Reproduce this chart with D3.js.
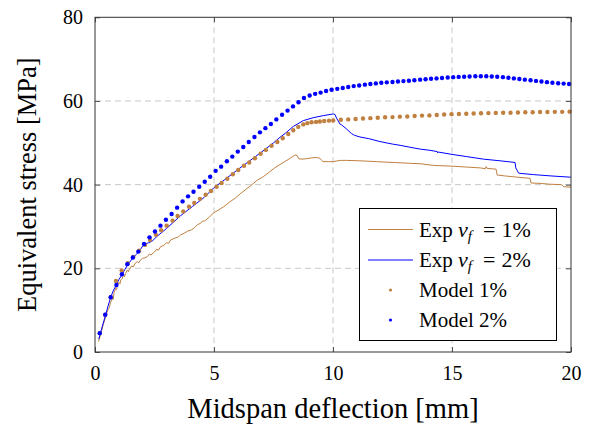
<!DOCTYPE html>
<html><head><meta charset="utf-8">
<script src="https://cdn.jsdelivr.net/npm/d3@7"></script>
<style>body{margin:0;background:#fff}svg{display:block}</style>
</head><body><svg id="c" width="592" height="425"></svg>
<script>
const xTicks=[0,5,10,15,20];
const yTicks=[0,20,40,60,80];
const exp1=[[0.15,2.5],[0.25,4.5],[0.35,6.6],[0.45,8.5],[0.55,10.2],[0.6,10.6],[0.65,11.8],[0.73,12.8],[0.76,12.5],[0.8,14.2],[0.87,15.2],[0.9,14.9],[0.95,16.0],[1.0,16.6],[1.05,16.3],[1.08,17.2],[1.15,17.6],[1.2,18.6],[1.24,18.0],[1.28,18.8],[1.36,19.6],[1.4,19.2],[1.45,19.9],[1.55,20.6],[1.6,20.3],[1.7,21.3],[1.78,21.6],[1.84,21.3],[1.9,21.9],[2.0,22.4],[2.1,22.5],[2.2,22.8],[2.28,23.4],[2.35,23.2],[2.5,23.9],[2.6,24.6],[2.66,24.3],[2.76,25.2],[2.9,25.5],[3.0,26.1],[3.1,26.0],[3.18,26.8],[3.35,27.2],[3.5,27.5],[3.6,28.0],[3.75,28.4],[3.9,28.9],[4.05,29.2],[4.16,29.6],[4.3,30.4],[4.44,30.8],[4.52,31.3],[4.6,31.3],[4.8,32.2],[4.97,33.2],[5.2,34.0],[5.4,34.7],[5.67,35.9],[5.9,36.8],[6.1,37.8],[6.37,39.0],[6.6,40.0],[6.8,41.0],[7.07,41.9],[7.3,42.9],[7.55,44.0],[7.77,44.8],[8.0,45.6],[8.2,46.3],[8.33,46.8],[8.44,47.1],[8.5,46.9],[8.56,46.2],[8.7,46.1],[8.9,46.2],[9.1,46.4],[9.31,46.5],[9.45,46.3],[9.52,45.8],[9.58,45.5],[9.8,45.5],[10.01,45.5],[10.3,45.8],[10.57,45.8],[11.13,45.7],[11.83,45.5],[12.53,45.3],[13.24,45.1],[13.66,45.0],[14.22,44.6],[15.06,44.4],[15.62,44.2],[16.2,44.0],[16.4,43.8],[16.43,44.3],[16.47,43.9],[16.85,43.7],[16.9,42.3],[17.2,42.1],[17.72,41.8],[18.28,41.5],[18.32,40.4],[18.7,40.3],[19.12,40.1],[19.6,40.0],[19.7,39.5],[20,39.4]];
const exp2=[[0.16,3.1],[0.3,6.0],[0.45,8.9],[0.55,11.0],[0.66,13.1],[0.78,14.8],[0.9,16.0],[1.0,17.3],[1.13,18.4],[1.25,19.7],[1.37,20.8],[1.5,21.8],[1.61,22.6],[1.73,23.3],[1.85,24.0],[2.0,25.3],[2.1,25.8],[2.25,26.1],[2.4,26.5],[2.6,27.6],[3.0,29.5],[3.6,32.6],[4.1,34.8],[4.6,37.0],[5.0,39.3],[5.5,41.4],[6.0,43.6],[6.5,45.7],[7.0,47.8],[7.5,50.0],[7.77,51.3],[8.0,52.3],[8.33,53.9],[8.75,55.3],[9.17,56.0],[9.59,56.5],[10.01,56.9],[10.08,56.8],[10.15,55.9],[10.29,54.5],[10.36,54.3],[10.57,53.3],[10.78,52.2],[10.9,51.8],[11.13,51.4],[11.5,51.0],[11.97,50.3],[12.5,49.7],[12.82,49.4],[13.37,48.8],[13.66,48.5],[14.08,48.2],[14.38,47.9],[14.4,47.6],[14.42,47.8],[14.92,47.3],[15.62,46.7],[16.32,46.1],[17.02,45.7],[17.65,45.3],[17.68,44.0],[17.75,43.3],[17.79,42.8],[17.86,42.7],[18.42,42.4],[19.12,42.1],[19.93,41.8],[20,41.8]];
const model1=[[0.2,4.5],[0.43,8.9],[0.66,13.1],[0.88,17.0],[1.12,19.5],[1.37,21.2],[1.61,22.7],[1.85,24.2],[2.1,25.6],[2.31,26.8],[2.56,28.0],[2.78,29.1],[3.01,30.2],[3.26,31.4],[3.47,32.5],[3.71,33.6],[3.95,34.7],[4.17,35.6],[4.41,36.6],[4.65,37.6],[4.87,38.5],[5.11,39.5],[5.32,40.4],[5.56,41.4],[5.79,42.5],[6.02,43.5],[6.26,44.5],[6.48,45.3],[6.72,46.3],[6.96,47.4],[7.18,48.3],[7.42,49.3],[7.66,50.2],[7.89,51.1],[8.12,52.1],[8.33,53.0],[8.54,53.8],[8.75,54.4],[8.92,54.7],[9.1,54.9],[9.29,55.0],[9.45,55.1],[9.63,55.2],[9.83,55.3],[10.01,55.35],[10.33,55.5],[10.64,55.6],[10.95,55.7],[11.26,55.8],[11.57,55.9],[11.88,56.0],[12.19,56.1],[12.5,56.15],[12.81,56.25],[13.12,56.3],[13.43,56.4],[13.74,56.5],[14.05,56.55],[14.36,56.65],[14.67,56.75],[14.98,56.85],[15.29,56.9],[15.6,56.95],[15.91,57.0],[16.22,57.05],[16.53,57.1],[16.84,57.15],[17.15,57.2],[17.46,57.2],[17.77,57.25],[18.08,57.3],[18.39,57.3],[18.7,57.35],[19.01,57.35],[19.32,57.4],[19.63,57.4],[19.94,57.45]];
const model2=[[0.2,4.5],[0.43,8.9],[0.66,13.1],[0.9,16.0],[1.13,18.6],[1.36,21.0],[1.59,22.6],[1.82,24.0],[2.06,25.8],[2.29,27.4],[2.52,28.8],[2.75,30.2],[2.98,31.6],[3.22,33.0],[3.45,34.5],[3.68,36.0],[3.91,37.2],[4.14,38.3],[4.38,39.5],[4.61,40.7],[4.84,41.9],[5.07,43.3],[5.3,44.3],[5.54,45.6],[5.77,46.7],[6.0,47.9],[6.23,49.0],[6.46,50.2],[6.7,51.4],[6.93,52.5],[7.16,53.5],[7.39,54.5],[7.62,55.6],[7.86,56.7],[8.09,57.7],[8.32,58.7],[8.55,59.7],[8.78,60.7],[9.02,61.3],[9.25,61.7],[9.48,62.0],[9.71,62.4],[9.94,62.7],[10.18,62.9],[10.41,63.1],[10.64,63.35],[10.87,63.55],[11.1,63.7],[11.34,63.9],[11.57,64.05],[11.8,64.2],[12.03,64.35],[12.26,64.45],[12.5,64.55],[12.73,64.65],[12.96,64.75],[13.19,64.85],[13.42,64.95],[13.66,65.1],[13.89,65.2],[14.12,65.3],[14.35,65.4],[14.58,65.5],[14.82,65.6],[15.05,65.7],[15.28,65.75],[15.51,65.8],[15.74,65.85],[15.98,65.9],[16.21,65.9],[16.44,65.9],[16.67,65.85],[16.9,65.8],[17.14,65.7],[17.37,65.55],[17.6,65.4],[17.83,65.25],[18.06,65.1],[18.3,64.95],[18.53,64.8],[18.76,64.65],[18.99,64.5],[19.22,64.35],[19.46,64.25],[19.69,64.15],[19.92,64.05]];

const FONT="Liberation Serif";
const BROWN="#bf8040", BLUE="#0000ff";
const svg=d3.select("#c").attr("font-family",FONT);
const L=95,T=17.3,W=476,H=334.7;
const x=d3.scaleLinear().domain([0,20]).range([L,L+W]);
const y=d3.scaleLinear().domain([0,80]).range([T+H,T]);
const g=svg.append("g");
g.selectAll(".gx").data(xTicks.slice(1,-1)).join("line").attr("x1",d=>x(d)).attr("x2",d=>x(d)).attr("y1",T).attr("y2",T+H)
 .attr("stroke","#c8c8c8").attr("stroke-width",1).attr("stroke-dasharray","6,4");
g.selectAll(".gy").data(yTicks.slice(1,-1)).join("line").attr("y1",d=>y(d)).attr("y2",d=>y(d)).attr("x1",L).attr("x2",L+W)
 .attr("stroke","#c8c8c8").attr("stroke-width",1).attr("stroke-dasharray","6,4");
const line=d3.line().x(d=>x(d[0])).y(d=>y(d[1]));
g.append("path").attr("d",line(exp1)).attr("fill","none").attr("stroke",BROWN).attr("stroke-width",1);
g.append("path").attr("d",line(exp2)).attr("fill","none").attr("stroke",BLUE).attr("stroke-width",1);
g.selectAll(".m1").data(model1).join("circle").attr("cx",d=>x(d[0])).attr("cy",d=>y(d[1])).attr("r",2.2).attr("fill",BROWN);
g.selectAll(".m2").data(model2).join("circle").attr("cx",d=>x(d[0])).attr("cy",d=>y(d[1])).attr("r",2.2).attr("fill",BLUE);
const ax=svg.append("g").attr("transform",`translate(0,${T+H})`).call(d3.axisBottom(x).tickValues(xTicks).tickSize(-5).tickPadding(13.5).tickFormat(d3.format("d")));
const ay=svg.append("g").attr("transform",`translate(${L},0)`).call(d3.axisLeft(y).tickValues(yTicks).tickSize(-5).tickPadding(12).tickFormat(d3.format("d")));
const axT=svg.append("g").attr("transform",`translate(0,${T})`).call(d3.axisTop(x).tickValues(xTicks).tickSize(-5).tickFormat(""));
const ayR=svg.append("g").attr("transform",`translate(${L+W},0)`).call(d3.axisRight(y).tickValues(yTicks).tickSize(-5).tickFormat(""));
[ax,ay,axT,ayR].forEach(a=>{a.attr("font-family",FONT).attr("font-size",20);a.select(".domain").remove();a.selectAll("line").attr("stroke","#555");a.selectAll("text").attr("fill","#000");});
svg.append("rect").attr("x",L).attr("y",T).attr("width",W).attr("height",H).attr("fill","none").attr("stroke","#333").attr("stroke-width",1);
svg.append("text").attr("x",x(10)).attr("y",418).attr("text-anchor","middle").attr("font-size",28.5).text("Midspan deflection [mm]");
svg.append("text").attr("transform",`translate(36,${y(40)}) rotate(-90)`).attr("text-anchor","middle").attr("font-size",26.5).text("Equivalent stress [MPa]");
const lg=svg.append("g").attr("font-size",21);
lg.append("rect").attr("x",359.5).attr("y",208.5).attr("width",197).attr("height",132).attr("fill","#fff").attr("stroke","#000").attr("stroke-width",1);
const rows=[229.5,260,290,320];
const items=[{type:"line",c:BROWN,p:"1%"},{type:"line",c:BLUE,p:"2%"},{type:"dot",c:BROWN,t:"Model 1%"},{type:"dot",c:BLUE,t:"Model 2%"}];
items.forEach((it,i)=>{
  const yy=rows[i];
  if(it.type==="line"){lg.append("line").attr("x1",368).attr("x2",413).attr("y1",yy).attr("y2",yy).attr("stroke",it.c).attr("stroke-width",1);
    const t=lg.append("text").attr("x",419).attr("y",yy+7);
    t.append("tspan").text("Exp ");
    t.append("tspan").attr("font-style","italic").attr("font-size",22).text("v");
    t.append("tspan").attr("dy",4).attr("font-size",15).attr("font-style","italic").text("f");
    t.append("tspan").attr("dy",-4).attr("dx",11).attr("font-size",22).text("=");
    t.append("tspan").attr("dx",6).attr("font-size",22).text(it.p);
  } else {
    lg.append("circle").attr("cx",390.5).attr("cy",yy).attr("r",1.6).attr("fill",it.c);
    lg.append("text").attr("x",419).attr("y",yy+7).text(it.t);
  }
});
</script></body></html>
